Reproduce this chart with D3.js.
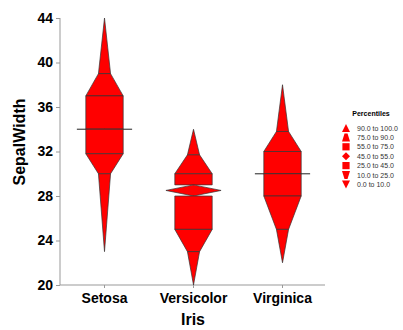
<!DOCTYPE html>
<html>
<head>
<meta charset="utf-8">
<script src="https://cdn.jsdelivr.net/npm/d3@7"></script>
<style>
body{margin:0;background:#fff;}
text{font-family:"Liberation Sans",Arial,sans-serif;}
</style>
</head>
<body>
<script>
// data (SepalWidth in mm)
var categories = ["Setosa", "Versicolor", "Virginica"];
var p0   = [23, 20, 22];
var p10  = [30, 23, 25];
var p25  = [31.8, 25, 28];
var p45  = [34, 28, 30];
var p50  = [34, 28.5, 30];
var p55  = [34, 29, 30];
var p75  = [37, 30, 32];
var p90  = [39, 31.7, 33.8];
var p100 = [44, 34, 38];
var yTicks = [20, 24, 28, 32, 36, 40, 44];
var legendLabels = ["90.0 to 100.0", "75.0 to 90.0", "55.0 to 75.0", "45.0 to 55.0",
	"25.0 to 45.0", "10.0 to 25.0", "0.0 to 10.0"];

var width = 403, height = 330;
var fill = "#ff0000", edge = "#333";

var svg = d3.select("body").append("svg")
	.attr("width", width)
	.attr("height", height);

var x = d3.scaleBand().domain(categories).range([60, 327]);
var y = d3.scaleLinear().domain([20, 44]).range([285, 18]);

// half widths as fraction of band
var bw = x.bandwidth();
var nw = bw * 0.068, boxw = bw * 0.21, dw = bw * 0.31;

//axes
var yAxis = svg.append("g")
	.attr("transform", "translate(60,0)")
	.call(d3.axisLeft(y).tickValues(yTicks).tickSize(4).tickPadding(3));
var xAxis = svg.append("g")
	.attr("transform", "translate(0,285)")
	.call(d3.axisBottom(x).tickSize(3).tickPadding(5));
xAxis.select(".domain").attr("d", "M60,0H325");
yAxis.select(".domain").attr("d", "M0,285V18");
svg.selectAll(".domain, .tick line").attr("stroke", "#999");
svg.selectAll(".tick text")
	.attr("fill", "#000")
	.style("font-size", "14px")
	.style("font-weight", "bold")
	.style("font-family", "'Liberation Sans',Arial,sans-serif");

svg.append("text")
	.attr("x", 193).attr("y", 325)
	.attr("text-anchor", "middle")
	.style("font-size", "16px").style("font-weight", "bold")
	.text("Iris");
svg.append("text")
	.attr("transform", "translate(25,142) rotate(-90)")
	.attr("text-anchor", "middle")
	.style("font-size", "16px").style("font-weight", "bold")
	.text("SepalWidth");

//build the pieces of each percentile shape
function pieces(i){
	var c = x(categories[i]) + bw / 2;
	var Y = function(v){ return y(v); };
	return [
		[[c, Y(p100[i])], [c + nw, Y(p90[i])], [c - nw, Y(p90[i])]],
		[[c - nw, Y(p90[i])], [c + nw, Y(p90[i])], [c + boxw, Y(p75[i])], [c - boxw, Y(p75[i])]],
		[[c - boxw, Y(p75[i])], [c + boxw, Y(p75[i])], [c + boxw, Y(p55[i])], [c - boxw, Y(p55[i])]],
		[[c, Y(p55[i])], [c + dw, Y(p50[i])], [c, Y(p45[i])], [c - dw, Y(p50[i])]],
		[[c - boxw, Y(p45[i])], [c + boxw, Y(p45[i])], [c + boxw, Y(p25[i])], [c - boxw, Y(p25[i])]],
		[[c - boxw, Y(p25[i])], [c + boxw, Y(p25[i])], [c + nw, Y(p10[i])], [c - nw, Y(p10[i])]],
		[[c - nw, Y(p10[i])], [c + nw, Y(p10[i])], [c, Y(p0[i])]]
	];
}

var groups = svg.selectAll(".shape")
	.data(categories)
	.enter().append("g")
	.attr("class", "shape");

groups.selectAll("polygon")
	.data(function(d, i){ return pieces(i); })
	.enter().append("polygon")
	.attr("points", function(d){ return d.map(function(p){ return p.join(","); }).join(" "); })
	.attr("fill", fill)
	.attr("stroke", edge)
	.attr("stroke-width", 0.7)
	.attr("stroke-linejoin", "miter");

//legend
var legend = svg.append("g").attr("transform", "translate(346,0)");
legend.append("text")
	.attr("x", 25).attr("y", 116)
	.attr("text-anchor", "middle")
	.style("font-size", "7px").style("font-weight", "bold")
	.text("Percentiles");

var symbols = [
	"M0,-4L4,4L-4,4Z",
	"M-1.5,-4L1.5,-4L4,4L-4,4Z",
	"M-3.6,-3.6H3.6V3.6H-3.6Z",
	"M0,-4L4,0L0,4L-4,0Z",
	"M-3.6,-3.6H3.6V3.6H-3.6Z",
	"M-4,-4L4,-4L1.5,4L-1.5,4Z",
	"M-4,-4L4,-4L0,4Z"
];
var items = legend.selectAll(".item")
	.data(legendLabels)
	.enter().append("g")
	.attr("class", "item")
	.attr("transform", function(d, i){ return "translate(0," + (128 + i * 9.4) + ")"; });
items.append("path")
	.attr("d", function(d, i){ return symbols[i]; })
	.attr("fill", fill);
items.append("text")
	.attr("x", 11).attr("y", 2.5)
	.style("font-size", "7px")
	.attr("fill", "#333")
	.text(function(d){ return d; });
</script>
</body>
</html>
